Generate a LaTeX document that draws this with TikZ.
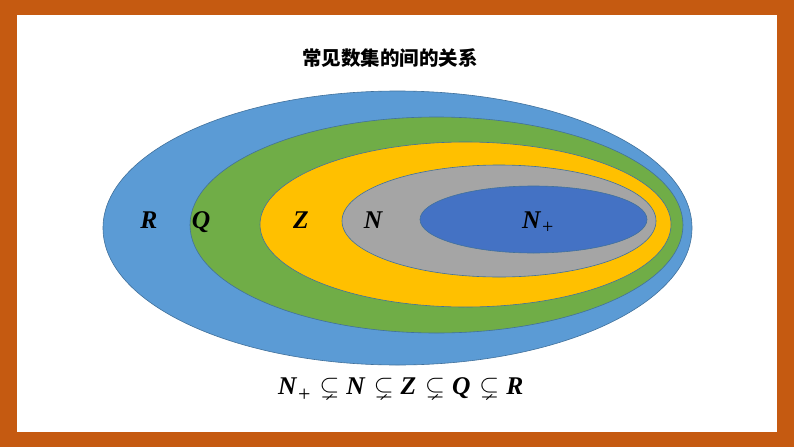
\documentclass[tikz,border=0pt]{standalone}
\usepackage{amsmath,amssymb}
\usepackage{fontspec}
\newfontfamily\cjk{Noto Sans CJK SC}
\newfontfamily\letterfont{Liberation Serif}
\newcommand{\setsym}[1]{{\letterfont\bfseries\itshape #1}}
\newcommand{\plussub}{\kern1.5pt\raisebox{-7pt}{\fontsize{22}{24}\selectfont\letterfont +}}
\newcommand{\psub}{\kern9pt$\subsetneq$\kern7pt}
\definecolor{frameor}{HTML}{C55A11}
\definecolor{cR}{HTML}{5B9BD5}
\definecolor{cQ}{HTML}{70AD47}
\definecolor{cZ}{HTML}{FFC000}
\definecolor{cN}{HTML}{A5A5A5}
\definecolor{cNp}{HTML}{4472C4}
\definecolor{edge}{HTML}{41719C}
\tikzset{
  setshape/.style={draw=edge, line width=0.6pt},
  setlabel/.style={anchor=base, inner sep=0pt, font=\fontsize{25.5}{28}\selectfont},
}
\begin{document}
\begin{tikzpicture}[x=1pt,y=-1pt]
\useasboundingbox (0,0) rectangle (794,447);
\fill[frameor] (0,0) rectangle (794,447);
\fill[white] (17,15) rectangle (777,432);
\node[font=\cjk\bfseries\fontsize{19.5}{22}\selectfont, inner sep=0pt] (title) at (390,58) {常见数集的间的关系};
\draw[setshape, fill=cR] (397.5,228) ellipse [x radius=294.5, y radius=137];
\draw[setshape, fill=cQ] (436.5,225) ellipse [x radius=246.5, y radius=108];
\draw[setshape, fill=cZ] (465.5,224.5) ellipse [x radius=205.5, y radius=82.5];
\draw[setshape, fill=cN] (499,221) ellipse [x radius=157, y radius=56];
\draw[setshape, fill=cNp] (533.5,219.5) ellipse [x radius=113.5, y radius=33.5];
\node[setlabel] (lR) at (149,228) {\setsym{R}};
\node[setlabel] (lQ) at (201,228) {\setsym{Q}};
\node[setlabel] (lZ) at (301,228) {\setsym{Z}};
\node[setlabel] (lN) at (373,228) {\setsym{N}};
\node[setlabel, anchor=base west] (lNp) at (522,228) {\setsym{N}\kern1.5pt\raisebox{-5.5pt}{\fontsize{20}{22}\selectfont\letterfont +}};
\node[anchor=base west, inner sep=0pt, font=\fontsize{25.5}{28}\selectfont] (formula) at (278,394)
  {\setsym{N}\plussub\psub\setsym{N}\psub\setsym{Z}\psub\setsym{Q}\psub\setsym{R}};
\end{tikzpicture}
\end{document}
